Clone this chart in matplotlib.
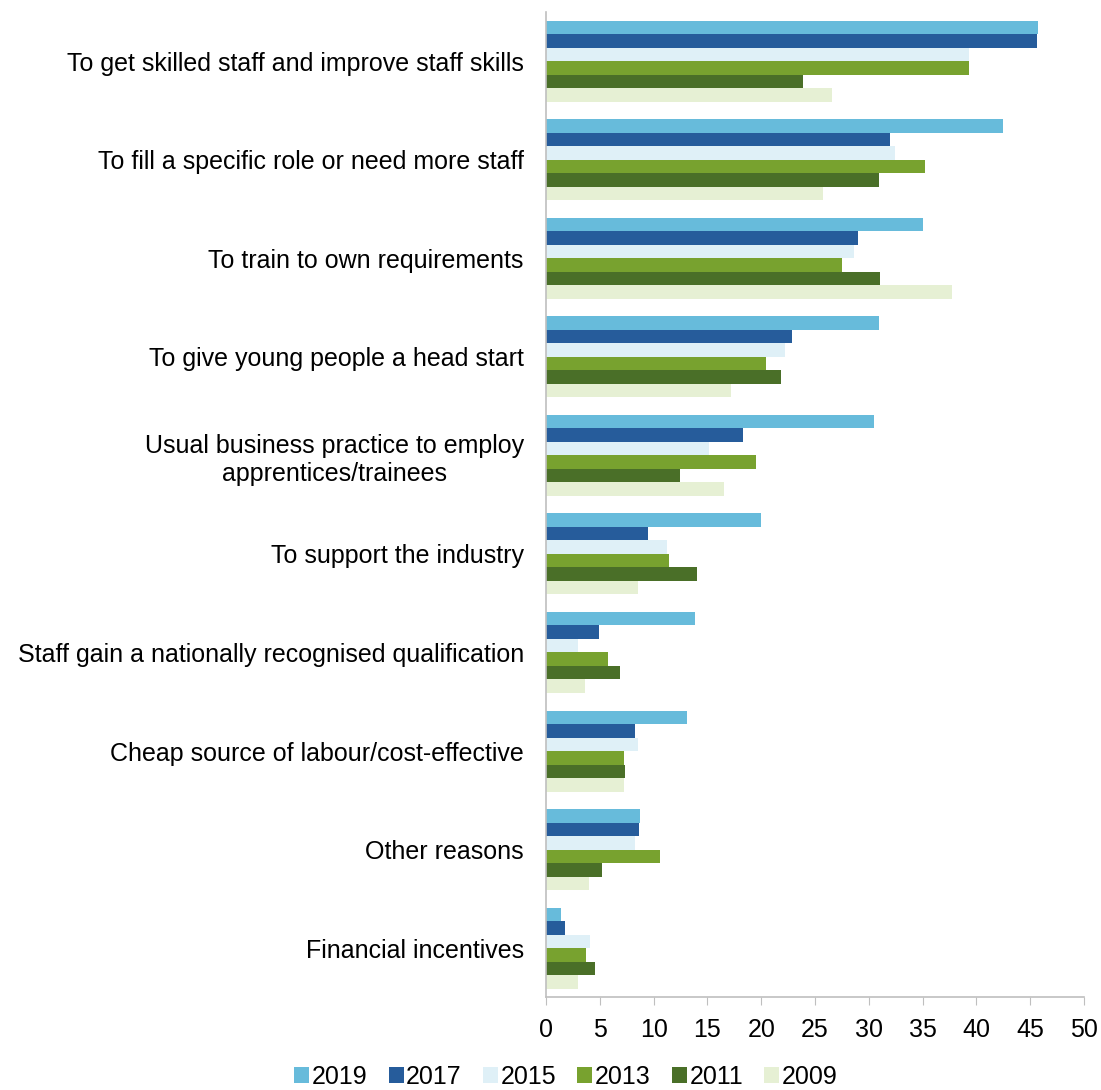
import numpy as np
import matplotlib
matplotlib.use("Agg")
import matplotlib.pyplot as plt

plt.rcParams['font.family'] = ['Liberation Sans', 'DejaVu Sans']

### reasons for taking on apprentices/trainees (% of employers)
categories = [
    'To get skilled staff and improve staff skills',
    'To fill a specific role or need more staff',
    'To train to own requirements',
    'To give young people a head start',
    'Usual business practice to employ\napprentices/trainees',
    'To support the industry',
    'Staff gain a nationally recognised qualification',
    'Cheap source of labour/cost-effective',
    'Other reasons',
    'Financial incentives',
]
years = ['2019', '2017', '2015', '2013', '2011', '2009']
v2019 = [45.7, 42.5, 35.0, 30.9, 30.5, 20.0, 13.8, 13.1, 8.7, 1.4]
v2017 = [45.6, 32.0, 29.0, 22.9, 18.3, 9.5, 4.9, 8.3, 8.6, 1.8]
v2015 = [39.3, 32.4, 28.6, 22.2, 15.1, 11.2, 3.0, 8.5, 8.3, 4.1]
v2013 = [39.3, 35.2, 27.5, 20.4, 19.5, 11.4, 5.8, 7.2, 10.6, 3.7]
v2011 = [23.9, 30.9, 31.0, 21.8, 12.4, 14.0, 6.9, 7.3, 5.2, 4.5]
v2009 = [26.6, 25.7, 37.7, 17.2, 16.5, 8.5, 3.6, 7.2, 4.0, 3.0]
colors = ['#67BBDB', '#265C9B', '#DFF0F7', '#78A22F', '#4A6F28', '#E6F0D4']

series = [v2019, v2017, v2015, v2013, v2011, v2009]

fig = plt.figure(figsize=(11.01, 10.90), dpi=100)
ax = fig.add_axes([0.496, 0.085, 0.4886, 0.904])

y = np.arange(len(categories))
h = 0.137
for k, (vals, yr, c) in enumerate(zip(series, years, colors)):
    off = (k - 2.5) * h
    ax.barh(y + off, vals, height=h, color=c, label=yr)

ax.set_ylim(len(categories) - 0.5, -0.5)
ax.set_xlim(0, 50)
ax.set_xticks(np.arange(0, 51, 5))
ax.set_yticks(y)
ax.set_yticklabels(categories, fontsize=18, multialignment='center')
ax.tick_params(axis='y', length=0, pad=16)
ax.tick_params(axis='x', labelsize=18, length=6, color='#BFBFBF', pad=9)

for s in ['top', 'right']:
    ax.spines[s].set_visible(False)
for s in ['left', 'bottom']:
    ax.spines[s].set_color('#BFBFBF')
    ax.spines[s].set_linewidth(1.2)

fig.legend(loc='center', bbox_to_anchor=(0.514, 0.012), ncol=6,
           fontsize=18, frameon=False, handlelength=0.6, handleheight=0.6,
           handletextpad=0.1, columnspacing=0.85, borderpad=0.1)

plt.savefig('out.png', dpi=100)
